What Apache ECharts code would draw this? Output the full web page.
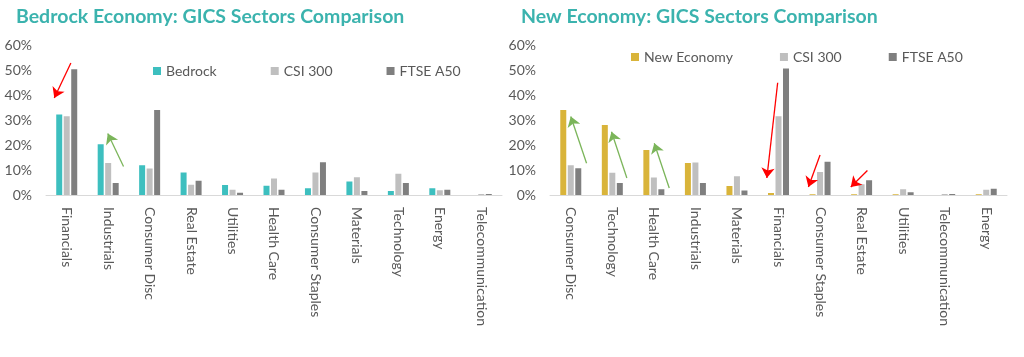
<!DOCTYPE html>
<html>
<head>
<meta charset="utf-8">
<script src="https://cdn.jsdelivr.net/npm/echarts@6/dist/echarts.min.js"></script>
<style>html,body{margin:0;padding:0;background:#fff;}#c{width:1024px;height:357px;}</style>
</head>
<body>
<div id="c"></div>
<script>
// ---- Data (values in %) ----
var bedrockCategories = ['Financials','Industrials','Consumer Disc','Real Estate','Utilities','Health Care','Consumer Staples','Materials','Technology','Energy','Telecommunication'];
var bedrockValues = [32.2, 20.3, 11.9, 9.0, 4.0, 3.7, 2.7, 5.4, 1.6, 2.7, 0];
var bedrockCsi300 = [31.5, 12.8, 10.6, 4.1, 2.1, 6.6, 9.0, 7.1, 8.5, 1.9, 0.4];
var bedrockFtseA50 = [50.3, 4.8, 34.0, 5.7, 0.9, 2.1, 13.1, 1.6, 4.8, 2.1, 0.4];

var newCategories = ['Consumer Disc','Technology','Health Care','Industrials','Materials','Financials','Consumer Staples','Real Estate','Utilities','Telecommunication','Energy'];
var newEconomyValues = [34.0, 28.0, 18.0, 12.8, 3.6, 0.8, 0.3, 0.3, 0.3, 0, 0.3];
var newCsi300 = [11.9, 8.9, 7.0, 13.0, 7.5, 31.5, 9.2, 4.3, 2.3, 0.4, 2.1];
var newFtseA50 = [10.7, 4.8, 2.3, 4.8, 1.8, 50.6, 13.3, 5.9, 1.1, 0.4, 2.5];

var yTicks = [0, 10, 20, 30, 40, 50, 60];

// Annotation arrows: [fromIndex, fromValue, toIndex, toValue] in data space
var bedrockRedArrows = [[0.10, 52.8, -0.30, 38.8]];
var bedrockGreenArrows = [[1.37, 11.4, 0.99, 24.6]];
var newGreenArrows = [[0.38, 12.7, 0.00, 31.4], [1.35, 6.8, 0.98, 25.3], [2.37, 2.8, 2.01, 20.7]];
var newRedArrows = [[4.98, 44.9, 4.72, 6.8], [6.00, 16.0, 5.72, 3.2], [7.14, 9.8, 6.74, 3.2]];

// ---- Styles ----
var FONT = 'Lato, "Open Sans", sans-serif';
var TXT = '#595959';
var C_BED = '#3DBFBF', C_NEW = '#D9B43A', C_CSI = '#BFBFBF', C_FTSE = '#7F7F7F';
var C_RED = '#FF0000', C_GREEN = '#7BB55A';

function arrowData(arr, color){
  return arr.map(function(a){
    return {coords: [[a[0], a[1]], [a[2], a[3]]], lineStyle: {color: color, width: 1.3, opacity: 1}};
  });
}
function arrowSeries(arr, color, xi, yi){
  return {
    type: 'lines', coordinateSystem: 'cartesian2d', xAxisIndex: xi, yAxisIndex: yi,
    symbol: ['none', 'arrow'], symbolSize: [0, 10], silent: true, z: 5,
    itemStyle: {color: color},
    lineStyle: {color: color, width: 1.3, opacity: 1},
    data: arrowData(arr, color)
  };
}
function catAxis(grid, cats){
  return {
    type: 'category', gridIndex: grid, data: cats,
    axisLine: {show: true, lineStyle: {color: '#D9D9D9', width: 1}},
    axisTick: {show: false},
    axisLabel: {rotate: -90, interval: 0, color: TXT, fontSize: 14, fontFamily: FONT, margin: 12}
  };
}
function helperXAxis(grid){
  return {type: 'value', gridIndex: grid, min: -0.5, max: 10.5, show: false};
}
function valAxis(grid){
  return {
    type: 'value', gridIndex: grid, min: yTicks[0], max: yTicks[yTicks.length-1], interval: 10,
    axisLine: {show: false}, axisTick: {show: false}, splitLine: {show: false},
    axisLabel: {formatter: '{value}%', color: TXT, fontSize: 14, fontFamily: FONT, margin: 14}
  };
}
function bar(name, data, color, xi, yi){
  return {
    name: name, type: 'bar', xAxisIndex: xi, yAxisIndex: yi, data: data,
    barWidth: 6, barGap: '25%', itemStyle: {color: color}
  };
}

var chart = echarts.init(document.getElementById('c'), null, {renderer: 'canvas'});
chart.setOption({
  animation: false,
  backgroundColor: '#fff',
  title: [
    {text: 'Bedrock Economy: GICS Sectors Comparison', left: 11, top: 2,
     textStyle: {color: '#3BB3AE', fontSize: 19.5, fontWeight: 'bold', fontFamily: FONT}},
    {text: 'New Economy: GICS Sectors Comparison', left: 516, top: 2,
     textStyle: {color: '#3BB3AE', fontSize: 19.5, fontWeight: 'bold', fontFamily: FONT}}
  ],
  legend: [
    {data: ['Bedrock', 'CSI 300', 'FTSE A50'], left: 148, top: 59, icon: 'rect',
     itemWidth: 8, itemHeight: 8, itemGap: 54,
     textStyle: {color: TXT, fontSize: 14, fontFamily: FONT}},
    {data: ['New Economy', 'CSI 300', 'FTSE A50'], left: 626, top: 45, icon: 'rect',
     itemWidth: 8, itemHeight: 8, itemGap: 47,
     textStyle: {color: TXT, fontSize: 14, fontFamily: FONT}}
  ],
  grid: [
    {left: 46, right: 522, top: 45, bottom: 162},
    {left: 550, right: 17, top: 45, bottom: 162}
  ],
  xAxis: [catAxis(0, bedrockCategories), catAxis(1, newCategories), helperXAxis(0), helperXAxis(1)],
  yAxis: [valAxis(0), valAxis(1)],
  series: [
    bar('Bedrock', bedrockValues, C_BED, 0, 0),
    bar('CSI 300', bedrockCsi300, C_CSI, 0, 0),
    bar('FTSE A50', bedrockFtseA50, C_FTSE, 0, 0),
    bar('New Economy', newEconomyValues, C_NEW, 1, 1),
    bar('CSI 300', newCsi300, C_CSI, 1, 1),
    bar('FTSE A50', newFtseA50, C_FTSE, 1, 1),
    arrowSeries(bedrockRedArrows, C_RED, 2, 0),
    arrowSeries(bedrockGreenArrows, C_GREEN, 2, 0),
    arrowSeries(newGreenArrows, C_GREEN, 3, 1),
    arrowSeries(newRedArrows, C_RED, 3, 1)
  ]
});
</script>
</body>
</html>
